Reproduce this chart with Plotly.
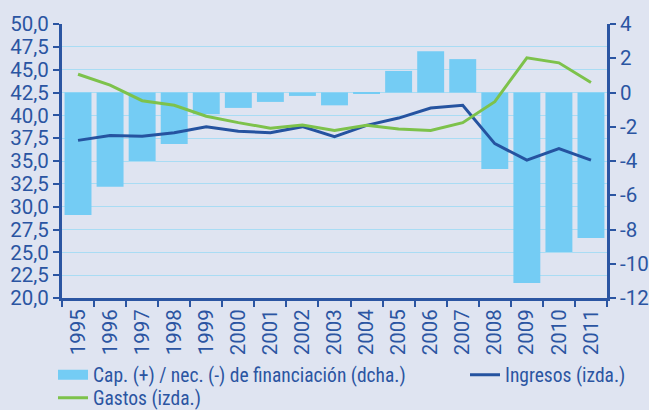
import plotly.graph_objects as go

years = [str(y) for y in range(1995, 2012)]
capacidad = [-7.15, -5.5, -4.0, -3.0, -1.27, -0.9, -0.55, -0.2, -0.75, -0.08,
             1.26, 2.41, 1.95, -4.47, -11.13, -9.32, -8.5]
ingresos = [37.26, 37.8, 37.7, 38.1, 38.76, 38.25, 38.1, 38.76, 37.66, 38.9,
            39.7, 40.8, 41.1, 36.9, 35.1, 36.35, 35.1]
gastos = [44.5, 43.3, 41.6, 41.1, 39.9, 39.2, 38.6, 38.95, 38.35, 38.9,
          38.5, 38.35, 39.2, 41.5, 46.3, 45.75, 43.6]
left_ticks = [20.0, 22.5, 25.0, 27.5, 30.0, 32.5, 35.0, 37.5, 40.0, 42.5, 45.0, 47.5, 50.0]
left_labels = [f"{v:.1f}".replace(".", ",") for v in left_ticks]
right_ticks = [-12, -10, -8, -6, -4, -2, 0, 2, 4]
right_labels = [str(v) for v in right_ticks]

BG = "#dfe4f1"
DARK = "#2b55a2"
BARC = "#74ccf4"
TICKFONT = dict(family="Roboto, sans-serif", size=20.5, color=DARK)
LEGFONT = dict(family="Roboto Condensed, Roboto, sans-serif", size=19.5, color=DARK)

fig = go.Figure()
fig.add_trace(go.Bar(x=years, y=capacidad, name="Cap. (+) / nec. (-) de financiación (dcha.)",
                     marker=dict(color=BARC, line=dict(width=0)), yaxis="y",
                     showlegend=False))
# legend entry for the bars (wide rectangular swatch as in the original)
fig.add_trace(go.Scatter(x=[None], y=[None], name="Cap. (+) / nec. (-) de financiación (dcha.)",
                         mode="lines", line=dict(color=BARC, width=12), yaxis="y",
                         legend="legend", hoverinfo="skip"))
fig.add_trace(go.Scatter(x=years, y=ingresos, name="Ingresos (izda.)", mode="lines",
                         line=dict(color="#2553a0", width=3), yaxis="y2", legend="legend2"))
fig.add_trace(go.Scatter(x=years, y=gastos, name="Gastos (izda.)", mode="lines",
                         line=dict(color="#7dc24b", width=3), yaxis="y2", legend="legend3"))

leg_common = dict(orientation="h", xanchor="left", yanchor="middle", font=LEGFONT,
                  bgcolor="rgba(0,0,0,0)", borderwidth=0, xref="container", yref="container")

fig.update_layout(
    width=649, height=410,
    margin=dict(l=62, r=42, t=24, b=112, autoexpand=False),
    paper_bgcolor=BG, plot_bgcolor=BG,
    font=dict(family="Roboto, sans-serif", size=20, color=DARK),
    bargap=0.16,
    showlegend=True,
    legend=dict(x=53 / 649, y=(410 - 375) / 410, **leg_common),
    legend2=dict(x=465 / 649, y=(410 - 375) / 410, **leg_common),
    legend3=dict(x=53 / 649, y=(410 - 398) / 410, **leg_common),
    xaxis=dict(type="category", tickangle=-90, tickson="boundaries", ticks="outside",
               ticklen=6, tickwidth=2, tickcolor=DARK, showline=True, linewidth=3,
               linecolor=DARK, showgrid=False, tickfont=TICKFONT, automargin=False),
    yaxis=dict(side="right", range=[-12, 4], tickvals=right_ticks, ticktext=right_labels,
               ticks="outside", ticklen=6, tickwidth=2, tickcolor=DARK, showline=True,
               linewidth=3, linecolor=DARK, showgrid=False, zeroline=False,
               tickfont=TICKFONT, automargin=False),
    yaxis2=dict(side="left", overlaying="y", range=[20, 50], tickvals=left_ticks,
                ticktext=left_labels, ticks="outside", ticklen=6, tickwidth=2,
                tickcolor=DARK, showline=True, linewidth=3, linecolor=DARK,
                showgrid=True, gridcolor="#a9dcf4", gridwidth=1, zeroline=False,
                tickfont=TICKFONT, automargin=False),
)

fig.write_html("out.html", config={"displayModeBar": False},
               post_script="document.body.style.margin='0';")
